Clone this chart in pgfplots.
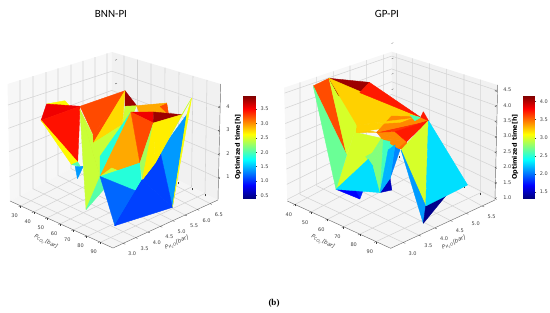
\documentclass[border=0pt]{standalone}
\usepackage{pgfplots}
\pgfplotsset{compat=1.18}
\usepackage{pgfplotstable}
\usepackage{fontspec}
\setmainfont{DejaVu Sans}
\newfontfamily\titlefont{Carlito}
\newfontfamily\capfont{Liberation Serif}
\definecolor{gridc}{HTML}{D4D4D4}
\definecolor{edgec}{HTML}{707070}
\definecolor{tickc}{HTML}{404040}
\pgfplotsset{
  colormap={myjet}{rgb255=(0,0,128) rgb255=(0,0,255) rgb255=(0,128,255) rgb255=(0,255,255) rgb255=(128,255,128) rgb255=(255,255,0) rgb255=(255,128,0) rgb255=(255,0,0) rgb255=(128,0,0)},
  bgpanel/.style={width=275pt,height=313pt,scale only axis,xmin=0,xmax=275,ymin=0,ymax=313,
    y dir=reverse,axis lines=none,clip=false,anchor=south west,
    every axis plot/.append style={no marks,forget plot},
    title style={font=\titlefont\fontsize{11}{13}\selectfont,anchor=center,yshift=0pt}},
  gl/.style={draw=gridc,line width=0.55pt},
  tk/.style={draw=tickc,line width=0.3pt,unbounded coords=jump},
  threed/.style={clip=false,anchor=origin,grid=none,
    axis line style={draw=none},
    tick style={draw=tickc,line width=0.3pt},
    ytick style={draw=none},
    major tick length=2pt,
    tick align=outside,
    xtick pos=left, ytick pos=left,
    ztick pos=right, zticklabel pos=right,
    ticklabel style={font=\fontsize{5}{6}\selectfont,text=tickc},
    xticklabel style={yshift=-3pt,xshift=0pt},
    yticklabel style={yshift=-3pt,xshift=3pt},
    zticklabel style={xshift=3pt},
    xticklabel={\pgfmathprintnumber[fixed,precision=0,assume math mode=true]{\tick}},
    yticklabel={\pgfmathprintnumber[fixed,fixed zerofill,precision=1,assume math mode=true]{\tick}},
    colormap name=myjet},
  tri/.style={patch,patch type=triangle,shader=flat,point meta=\thisrow{c}},
  cb/.style={scale only axis,width=11.7pt,height=102.3pt,anchor=south west,
    xmin=0,xmax=1,enlargelimits=false,xtick=\empty,colormap name=myjet,
    ytick pos=right,yticklabel pos=right,
    axis line style={draw=edgec,line width=0.35pt},
    tick style={draw=tickc,line width=0.3pt},major tick length=2pt,tick align=outside,
    ticklabel style={font=\fontsize{5}{6}\selectfont,text=tickc},
    yticklabel={\pgfmathprintnumber[fixed,fixed zerofill,precision=1,assume math mode=true]{\tick}},
    ylabel style={font=\fontsize{6.4}{7}\selectfont\bfseries,anchor=center,rotate=0}}
}
\begin{document}
\begin{tikzpicture}
\path[use as bounding box] (0pt,0pt) rectangle (550pt,313pt);
% ---------- panel 1 panes and grid (screen frame)
\begin{axis}[bgpanel,at={(0pt,0pt)},title={BNN-PI},title style={at={(0.4036,0.936)}}]
\addplot[fill={rgb,255:red,247;green,247;blue,247},draw=none] coordinates {(10,201)(7.5,84)(112,52)(111.5,147)} --cycle;
\addplot[fill={rgb,255:red,241;green,241;blue,241},draw=none] coordinates {(111.5,147)(112,52)(220.7,84)(218,200)} --cycle;
\addplot[fill={rgb,255:red,245;green,245;blue,245},draw=none] coordinates {(10,201)(111.5,147)(218,200)(113,248)} --cycle;
% x lines
\addplot[gl] coordinates {(20.7,206)(124,153)(124,55.6)};
\addplot[gl] coordinates {(33.5,212)(137.5,160)(137.5,59.6)};
\addplot[gl] coordinates {(46.8,218)(151,167)(151,63.6)};
\addplot[gl] coordinates {(60,224)(164.5,173.5)(165,67.7)};
\addplot[gl] coordinates {(73.5,230)(178,180)(179,72)};
\addplot[gl] coordinates {(87,236.5)(191.5,187)(193,76)};
\addplot[gl] coordinates {(100,242.5)(205,193.5)(207,80)};
% y lines
\addplot[gl] coordinates {(123.3,243.3)(20,195.7)(20,80.2)};
\addplot[gl] coordinates {(135.7,237.6)(33,188.8)(33,76.2)};
\addplot[gl] coordinates {(148,232)(46,181.9)(46,72.2)};
\addplot[gl] coordinates {(160.3,226.3)(58,175.5)(58,68.5)};
\addplot[gl] coordinates {(172.7,220.7)(71,168.6)(71,64.6)};
\addplot[gl] coordinates {(185,215)(83,162.2)(83,60.9)};
\addplot[gl] coordinates {(197.3,209.4)(95,155.8)(95,57.2)};
\addplot[gl] coordinates {(210,203.6)(107,149.4)(107,53.5)};
% z lines
\addplot[gl] coordinates {(9.5,176.7)(111.7,128.8)(218.5,178.3)};
\addplot[gl] coordinates {(9,151.7)(111.7,109.6)(219,155)};
\addplot[gl] coordinates {(8.5,128.3)(111.8,90.4)(219.7,131.3)};
\addplot[gl] coordinates {(8,105)(111.9,71.2)(220.3,107.7)};
% edges and y tick marks
\addplot[draw=edgec,line width=0.45pt] coordinates {(10,201)(113,248)(218,200)(220.7,84)};
\addplot[tk] coordinates {(123.3,243.3)(125.2,244.2)(nan,nan)(135.7,237.6)(137.6,238.5)(nan,nan)(148,232)(149.9,232.9)(nan,nan)(160.3,226.3)(162.2,227.2)(nan,nan)(172.7,220.7)(174.6,221.6)(nan,nan)(185,215)(186.9,215.9)(nan,nan)(197.3,209.4)(199.2,210.3)(nan,nan)(210,203.6)(211.9,204.5)};
\node[font=\itshape\fontsize{5.5}{6}\selectfont,text=tickc,rotate=-26] at (axis cs:46,242) {P\textsubscript{CO\textsubscript{2}}[bar]};
\node[font=\itshape\fontsize{5.5}{6}\selectfont,text=tickc,rotate=24] at (axis cs:177,243) {P\textsubscript{H\textsubscript{2}O}[bar]};
\node[font=\capfont\bfseries\fontsize{9}{10}\selectfont] at (axis cs:274,303) {(b)};
\end{axis}
% ---------- panel 2 panes and grid
\begin{axis}[bgpanel,at={(275pt,0pt)},title={GP-PI},title style={at={(0.407,0.936)}}]
\addplot[fill={rgb,255:red,247;green,247;blue,247},draw=none] coordinates {(12.3,201)(9,87.7)(116.7,51.7)(116.5,147)} --cycle;
\addplot[fill={rgb,255:red,241;green,241;blue,241},draw=none] coordinates {(116.5,147)(116.7,51.7)(222.7,85)(220,200)} --cycle;
\addplot[fill={rgb,255:red,245;green,245;blue,245},draw=none] coordinates {(12.3,201)(116.5,147)(220,200)(115.7,248.3)} --cycle;
\addplot[gl] coordinates {(20,204.5)(121.7,149.7)(121.7,53.3)};
\addplot[gl] coordinates {(36.2,212)(137.7,157.8)(137.7,58.3)};
\addplot[gl] coordinates {(52.4,219.4)(154.3,166.4)(154.3,63.5)};
\addplot[gl] coordinates {(68.6,226.8)(171.7,175.3)(171.7,69)};
\addplot[gl] coordinates {(84.8,234.2)(189,184.1)(189,74.4)};
\addplot[gl] coordinates {(101,241.6)(205.7,192.7)(205.7,79.7)};
\addplot[gl] coordinates {(128.3,242.5)(25,194.4)(25,82.4)};
\addplot[gl] coordinates {(144.1,235.3)(41.7,185.8)(41.7,76.9)};
\addplot[gl] coordinates {(159.9,228)(58.3,177.2)(58.3,71.3)};
\addplot[gl] coordinates {(175.7,220.7)(75,168.5)(75,65.7)};
\addplot[gl] coordinates {(191.5,213.4)(91.7,159.9)(91.7,60.2)};
\addplot[gl] coordinates {(207.3,206.1)(108.3,151.3)(108.3,54.6)};
\addplot[gl] coordinates {(12.2,199.5)(116.5,145.7)(220,198.3)};
\addplot[gl] coordinates {(11.8,184.3)(116.5,132.9)(220.3,182.9)};
\addplot[gl] coordinates {(11.4,169.1)(116.5,120.1)(220.6,167.5)};
\addplot[gl] coordinates {(11,153.9)(116.6,107.3)(220.9,152.1)};
\addplot[gl] coordinates {(10.6,138.7)(116.6,94.5)(221.2,136.7)};
\addplot[gl] coordinates {(10.3,123.5)(116.6,81.7)(221.5,121.3)};
\addplot[gl] coordinates {(10,108.3)(116.6,68.9)(221.8,105.9)};
\addplot[gl] coordinates {(9.6,93.1)(116.7,56.1)(222.2,90.5)};
\addplot[draw=edgec,line width=0.45pt] coordinates {(12.3,201)(115.7,248.3)(220,200)(222.7,85)};
\addplot[tk] coordinates {(128.3,242.5)(130.2,243.4)(nan,nan)(144.1,235.3)(146,236.2)(nan,nan)(159.9,228)(161.8,228.9)(nan,nan)(175.7,220.7)(177.6,221.6)(nan,nan)(191.5,213.4)(193.4,214.3)(nan,nan)(207.3,206.1)(209.2,207)};
\node[font=\itshape\fontsize{5.5}{6}\selectfont,text=tickc,rotate=-26] at (axis cs:48,242) {P\textsubscript{CO\textsubscript{2}}[bar]};
\node[font=\itshape\fontsize{5.5}{6}\selectfont,text=tickc,rotate=24] at (axis cs:179,243) {P\textsubscript{H\textsubscript{2}O}[bar]};
\end{axis}
% ---------- panel 1 surface in data units
\begin{axis}[threed,at={(10pt,112pt)},
  x={(1.32pt,-0.6pt)},y={(24.8pt,11.2pt)},z={(0pt,23.6pt)},
  xmin=22,xmax=100,ymin=2.6,ymax=6.84,zmin=0.05,zmax=5,
  xtick={30,40,...,90},ytick={3,3.5,...,6.5},ztick={1,2,3,4},
  zticklabel={\pgfmathprintnumber[fixed,precision=0,assume math mode=true]{\tick}},
  point meta min=0.4,point meta max=3.95]
\addplot3[tri] table {
x y z c
30.4 4.78 .7 1.38
33.5 4.94 .7 1.38
35.7 4.59 .4 1.38
28.7 3.72 3.8 2.64
30.9 4.34 3.7 2.64
29.6 4.61 3.3 2.64
66.1 5.36 3.9 2.92
69.3 6.40 3.6 2.92
61.1 5.76 3.2 2.92
61.1 5.76 3.2 2.92
69.3 6.40 3.6 2.92
71.8 6.34 3.2 2.92
65.6 6.33 3.4 3.25
69.3 6.40 3.6 3.25
71.8 6.34 3.2 3.25
65.9 6.05 3.4 1.86
67.0 6.25 3.4 1.86
67.3 6.10 3.2 1.86
32.4 3.30 3.4 3.56
28.7 3.72 3.8 3.56
33.4 4.82 3.3 3.56
32.4 3.30 3.4 3.45
33.4 4.82 3.3 3.45
51.5 3.76 1.9 3.45
32.4 3.30 3.4 2.64
51.5 3.76 1.9 2.64
51.4 3.52 1.9 2.64
51.4 3.52 1.9 2.03
51.5 3.76 1.9 2.03
56.0 3.62 1.9 2.03
57.3 4.08 2.7 2.43
58.8 5.17 3.0 2.43
61.1 4.15 2.2 2.43
58.8 5.17 3.0 1.86
61.1 4.15 2.2 1.86
64.1 3.99 1.5 1.86
33.4 4.82 3.3 3.25
49.2 5.79 3.9 3.25
54.2 4.24 2.9 3.25
49.2 5.79 3.9 3.25
54.2 4.24 2.9 3.25
57.3 4.08 2.7 3.25
49.2 5.79 3.9 2.75
57.3 4.08 2.7 2.75
58.8 5.17 3.0 2.75
50.4 5.73 3.3 2.43
66.1 5.36 3.9 2.43
57.1 5.50 2.8 2.43
50.4 5.73 3.3 2.43
57.1 5.50 2.8 2.43
58.8 5.17 3.0 2.43
58.8 5.17 3.0 2.43
57.1 5.50 2.8 2.43
61.4 5.38 3.5 2.43
58.8 5.17 3.0 1.86
61.4 5.38 3.5 1.86
64.1 3.99 1.5 1.86
49.2 5.79 3.9 3.85
66.1 5.36 3.9 3.85
50.4 5.73 3.3 3.85
34.2 4.77 3.2 2.43
61.8 4.31 2.0 2.43
64.1 3.99 1.5 2.43
37.1 4.69 3.1 3.25
64.1 3.99 1.5 3.25
56.0 4.21 1.9 3.25
34.2 4.77 3.2 2.43
74.7 2.86 .9 2.43
64.1 3.99 1.5 2.43
74.7 2.86 .9 2.03
64.1 3.99 1.5 2.03
70.5 3.79 1.2 2.03
61.4 5.38 3.5 3.56
77.7 5.42 3.9 3.56
79.0 5.35 3.5 3.56
61.4 5.38 3.5 3.25
79.0 5.35 3.5 3.25
85.7 4.45 2.4 3.25
61.4 5.38 3.5 2.92
85.7 4.45 2.4 2.92
64.1 3.99 1.5 2.92
64.1 3.99 1.5 1.86
85.7 4.45 2.4 1.86
92.5 4.19 1.4 1.86
64.1 3.99 1.5 2.43
79.1 4.20 1.9 2.43
75.2 3.87 2.2 2.43
85.7 4.45 2.4 2.3
79.0 5.35 3.5 2.3
86.7 4.49 1.7 2.3
64.1 3.99 1.5 1.2
92.5 4.19 1.4 1.2
99.0 2.73 .9 1.2
79.0 5.35 3.5 2.68
90.6 5.87 3.9 2.68
95.3 4.55 2.6 2.68
79.0 5.35 3.5 2.68
95.3 4.55 2.6 2.68
86.7 4.49 1.7 2.68
77.7 5.42 3.9 3.85
90.6 5.87 3.9 3.85
79.0 5.35 3.5 3.85
95.3 4.55 2.6 2.43
80.5 6.81 3.9 2.43
75.6 5.80 2.0 2.43
86.7 4.49 1.7 2.43
95.3 4.55 2.6 2.43
75.6 5.80 2.0 2.43
80.5 6.81 3.9 2.6
86.6 6.29 3.6 2.6
97.5 5.13 .5 2.6
75.6 5.80 2.0 1.38
86.6 6.29 3.6 1.38
97.5 5.13 .5 1.38
99.0 2.73 .9 1.07
92.5 4.19 1.4 1.07
86.7 4.49 1.7 1.07
99.0 2.73 .9 1.07
86.7 4.49 1.7 1.07
97.5 5.13 .5 1.07
86.7 4.49 1.7 1.07
75.6 5.80 2.0 1.07
97.5 5.13 .5 1.07
};
\end{axis}
% ---------- panel 2 surface in data units
\begin{axis}[threed,at={(287.3pt,112pt)},
  x={(1.62pt,-0.742pt)},y={(31.6pt,14.63pt)},z={(0pt,30.77pt)},
  xmin=35.3,xmax=99.1,ymin=2.6,ymax=5.9,zmin=0.95,zmax=4.68,
  xtick={40,50,...,90},ytick={3,3.5,...,5.5},ztick={1,1.5,...,4.5},
  zticklabel={\pgfmathprintnumber[fixed,fixed zerofill,precision=1,assume math mode=true]{\tick}},
  point meta min=1.33,point meta max=4.15]
\addplot3[tri] table {
x y z c
60.1 2.87 1.8 1.68
52.7 3.66 1.6 1.68
63.7 3.44 1.3 1.68
52.7 3.66 1.6 1.77
62.1 3.69 1.6 1.77
63.7 3.44 1.3 1.77
60.1 2.87 1.8 2.3
62.4 3.77 2.4 2.3
80.1 3.24 2.0 2.3
62.4 3.77 2.4 2.3
64.8 3.81 2.2 2.3
80.1 3.24 2.0 2.3
62.4 3.77 2.4 2.75
64.8 4.07 3.0 2.75
64.8 3.81 2.2 2.75
64.8 4.07 3.0 2.75
66.5 4.04 3.0 2.75
64.8 3.81 2.2 2.75
61.8 3.72 2.5 2.75
63.6 3.82 2.6 2.75
64.8 3.81 2.2 2.75
64.8 3.81 2.2 2.75
66.5 4.04 3.0 2.75
80.1 3.24 2.0 2.75
66.5 4.04 3.0 2.57
69.7 4.09 3.0 2.57
80.1 3.24 2.0 2.57
69.7 4.09 3.0 2.5
71.4 4.16 2.9 2.5
68.5 4.09 2.7 2.5
80.1 3.24 2.0 2.18
68.5 4.09 2.7 2.18
71.4 4.16 2.9 2.18
80.1 3.24 2.0 2.18
71.4 4.16 2.9 2.18
69.5 4.10 1.8 2.18
71.4 4.16 2.9 2.05
70.1 4.38 2.6 2.05
69.5 4.10 1.8 2.05
71.4 4.16 2.9 2.05
72.6 4.20 2.8 2.05
70.1 4.38 2.6 2.05
80.1 3.24 2.0 1.5
69.5 4.10 1.8 1.5
71.7 4.04 1.5 1.5
35.3 3.42 4.3 2.68
60.1 2.87 1.8 2.68
61.0 3.16 2.8 2.68
39.2 3.72 4.5 3.59
61.0 3.16 2.8 3.59
35.3 3.42 4.3 3.59
39.2 3.72 4.5 2.98
48.2 4.14 3.0 2.98
61.0 3.16 2.8 2.98
39.2 3.72 4.5 4.07
52.4 4.32 4.4 4.07
48.1 4.24 4.0 4.07
52.4 4.32 4.4 3.73
79.4 4.56 3.8 3.73
48.1 4.24 4.0 3.73
39.2 3.72 4.5 3.22
79.4 4.56 3.8 3.22
48.2 4.14 3.0 3.22
48.2 4.14 3.0 3.22
79.4 4.56 3.8 3.22
79.9 4.78 3.6 3.22
48.2 4.14 3.0 3.22
53.3 3.87 3.0 3.22
79.9 4.78 3.6 3.22
39.2 3.72 4.5 4.07
52.5 3.73 4.0 4.07
47.1 3.61 4.2 4.07
70.4 4.68 3.6 2.6
79.4 4.56 3.8 2.6
73.7 4.67 3.5 2.6
48.2 4.14 3.0 2.98
60.1 2.87 1.8 2.98
62.4 3.77 2.4 2.98
53.3 3.87 3.0 2.98
64.8 4.07 3.0 2.98
62.4 3.77 2.4 2.98
48.2 4.14 3.0 2.98
53.3 3.87 3.0 2.98
62.4 3.77 2.4 2.98
61.2 4.57 3.4 3.42
73.6 4.73 3.6 3.42
63.4 3.99 3.2 3.42
62.6 4.40 3.3 3.2
63.4 3.99 3.2 3.2
61.2 4.57 3.4 3.2
50.4 4.02 3.0 3.25
53.3 3.87 3.0 3.25
63.4 3.99 3.2 3.25
73.6 4.73 3.6 3.42
79.9 4.78 3.6 3.42
63.4 3.99 3.2 3.42
63.4 3.99 3.2 3.65
79.9 4.78 3.6 3.65
68.6 4.30 3.2 3.65
68.6 4.30 3.2 3.73
79.9 4.78 3.6 3.73
74.8 4.35 3.0 3.73
63.4 3.99 3.2 3.42
68.6 4.30 3.2 3.42
74.8 4.35 3.0 3.42
63.4 3.99 3.2 3.42
74.8 4.35 3.0 3.42
64.8 4.07 3.0 3.42
64.8 4.07 3.0 3.42
74.8 4.35 3.0 3.42
72.6 4.20 2.8 3.42
74.8 4.35 3.0 3.5
77.3 4.28 2.8 3.5
72.6 4.20 2.8 3.5
79.4 4.56 3.8 3.73
78.5 4.69 3.9 3.73
79.9 4.78 3.6 3.73
70.4 4.40 2.6 2.98
79.9 4.78 3.6 2.98
90.9 4.13 1.4 2.98
79.9 4.78 3.6 2.3
93.9 5.30 1.6 2.3
90.9 4.13 1.4 2.3
70.4 4.40 2.6 2.11
90.9 4.13 1.4 2.11
93.5 3.92 1.0 2.11
90.9 4.13 1.4 1.36
86.5 5.10 1.3 1.36
93.5 3.92 1.0 1.36
};
\end{axis}
% ---------- colour bars
\begin{axis}[cb,at={(243.3pt,114.7pt)},ymin=0.4,ymax=3.95,ytick={0.5,1,...,3.5},ylabel={Optimized time[h]},ylabel style={at={(axis description cs:-0.45,0.5)}},point meta min=0.4,point meta max=3.95]
\addplot[surf,shader=interp,point meta=y,mesh/rows=2,mesh/cols=2] coordinates {(0,0.4)(1,0.4)(0,3.95)(1,3.95)};
\end{axis}
\begin{axis}[cb,at={(522.7pt,114.7pt)},ymin=1.33,ymax=4.15,ytick={1.5,2,...,4},ylabel={Optimized time[h]},ylabel style={at={(axis description cs:-0.65,0.5)}},point meta min=1.33,point meta max=4.15]
\addplot[surf,shader=interp,point meta=y,mesh/rows=2,mesh/cols=2] coordinates {(0,1.33)(1,1.33)(0,4.15)(1,4.15)};
\end{axis}
\end{tikzpicture}
\end{document}
